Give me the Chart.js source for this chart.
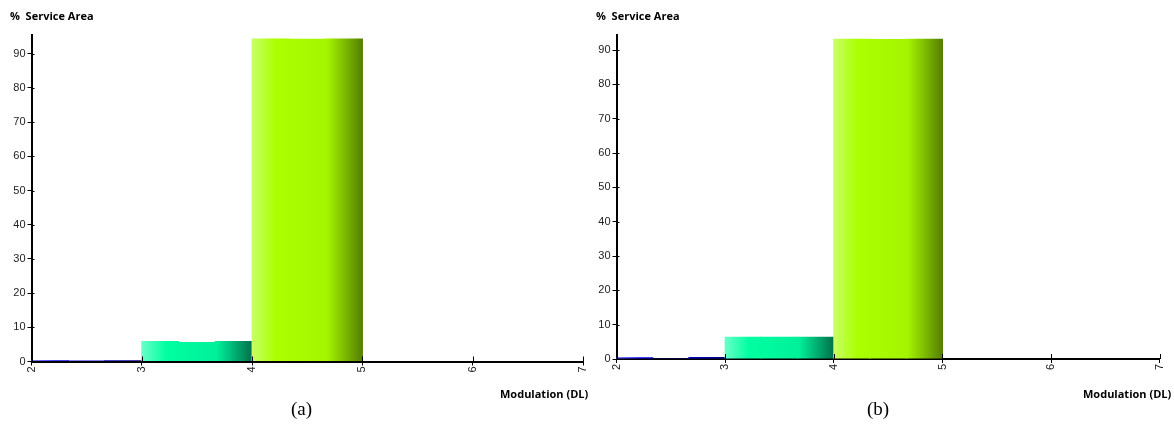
<!DOCTYPE html>
<html>
<head>
<meta charset="utf-8">
<script src="https://cdn.jsdelivr.net/npm/chart.js@4"></script>
<style>
    body { margin: 0; background: #fff; width: 1174px; height: 430px; position: relative; overflow: hidden; }
    .panel { position: absolute; top: 0; height: 400px; }
    .ytitle, .xtitle { position: absolute; font-family: "Open Sans", sans-serif; font-weight: bold; font-size: 11px; color: #000; white-space: pre; }
    .cap { position: absolute; font-family: "Liberation Serif", serif; font-size: 19px; color: #000; }
</style>
</head>
<body>
<div class="panel" style="left:0; width:600px;"><canvas id="chartA"></canvas></div>
<div class="panel" style="left:585px; width:589px;"><canvas id="chartB"></canvas></div>

<div class="ytitle" style="left:10px; top:8px;">%  Service Area</div>
<div class="ytitle" style="left:596px; top:8px;">%  Service Area</div>
<div class="xtitle" style="left:500px; top:386px;">Modulation (DL)</div>
<div class="xtitle" style="left:1083px; top:386px;">Modulation (DL)</div>
<div class="cap" style="left:291px; top:398px;">(a)</div>
<div class="cap" style="left:867px; top:398px;">(b)</div>

<script>
// sub-bin centres (three bins per modulation step)
const binCentres = [2.1667, 2.5, 2.8333, 3.1667, 3.5, 3.8333, 4.1667, 4.5, 4.8333];
const valuesA = [0.4, 0.3, 0.4, 6.0, 5.7, 6.0, 94.5, 94.4, 94.5];
const valuesB = [0.5, 0.2, 0.6, 6.5, 6.5, 6.5, 93.3, 93.2, 93.3];
const xTicks = [2, 3, 4, 5, 6, 7];
const yTicks = [0, 10, 20, 30, 40, 50, 60, 70, 80, 90];

// cylinder-like shading for each modulation step
const shades = {
    2: ['#5050ff', '#0000ee', '#0000d0', '#000080'],
    3: ['#6affc8', '#00ffa0', '#00f09a', '#00704a'],
    4: ['#c8ff66', '#aaff00', '#a4f500', '#557f00']
};

function barColor(ctx) {
    const chart = ctx.chart;
    if (!chart.chartArea || !ctx.raw) return '#aaff00';
    const xs = chart.scales.x;
    const step = Math.floor(ctx.raw.x);
    const c = shades[step];
    const x0 = xs.getPixelForValue(step);
    const x1 = xs.getPixelForValue(step + 1);
    const g = chart.ctx.createLinearGradient(x0, 0, x1, 0);
    g.addColorStop(0, c[0]);
    g.addColorStop(0.22, c[1]);
    g.addColorStop(0.68, c[2]);
    g.addColorStop(1, c[3]);
    return g;
}

// small inward tick marks so the ticks cross the axis lines
const crossTicks = {
    id: 'crossTicks',
    afterDraw(chart) {
        const ctx = chart.ctx;
        const xs = chart.scales.x, ys = chart.scales.y;
        ctx.save();
        ctx.strokeStyle = '#000';
        ctx.lineWidth = 1;
        ctx.beginPath();
        xs.ticks.forEach((t, i) => {
            const px = Math.round(xs.getPixelForTick(i)) + 0.5;
            ctx.moveTo(px, xs.top);
            ctx.lineTo(px, xs.top - 5);
        });
        ys.ticks.forEach((t, i) => {
            const py = Math.round(ys.getPixelForTick(i)) + 0.5;
            ctx.moveTo(ys.right, py);
            ctx.lineTo(ys.right + 3, py);
        });
        ctx.stroke();
        ctx.restore();
    }
};

function makeChart(id, values, yMax, xHeight, rightPad) {
    const ctx = document.getElementById(id).getContext('2d');
    return new Chart(ctx, {
        type: 'bar',
        data: {
            datasets: [{
                data: binCentres.map((x, i) => ({ x: x, y: values[i] })),
                backgroundColor: barColor,
                borderWidth: 0,
                categoryPercentage: 1,
                barPercentage: 1.03
            }]
        },
        options: {
            responsive: true,
            maintainAspectRatio: false,
            animation: false,
            layout: { padding: { top: 35, right: rightPad, left: 0, bottom: 0 } },
            plugins: { legend: { display: false }, tooltip: { enabled: false } },
            scales: {
                x: {
                    type: 'linear',
                    min: xTicks[0],
                    max: xTicks[xTicks.length - 1],
                    offset: false,
                    afterFit: s => { s.height = xHeight; },
                    afterBuildTicks: s => { s.ticks = xTicks.map(v => ({ value: v })); },
                    grid: { offset: false, drawOnChartArea: false, color: '#000', tickLength: 4 },
                    border: { color: '#000', width: 2 },
                    ticks: {
                        autoSkip: false, minRotation: 90, maxRotation: 90, padding: 1,
                        color: '#222', font: { family: 'Liberation Sans', size: 11 }
                    }
                },
                y: {
                    min: 0,
                    max: yMax,
                    afterFit: s => { s.width = 31.5; },
                    afterBuildTicks: s => { s.ticks = yTicks.map(v => ({ value: v })); },
                    grid: { drawOnChartArea: false, color: '#000', tickLength: 4 },
                    border: { color: '#000', width: 2 },
                    ticks: {
                        padding: 2, color: '#222', font: { family: 'Liberation Sans', size: 11 }
                    }
                }
            }
        },
        plugins: [crossTicks]
    });
}

makeChart('chartA', valuesA, 95.5, 38.5, 17);
makeChart('chartB', valuesB, 94.4, 41, 7);
</script>
</body>
</html>
